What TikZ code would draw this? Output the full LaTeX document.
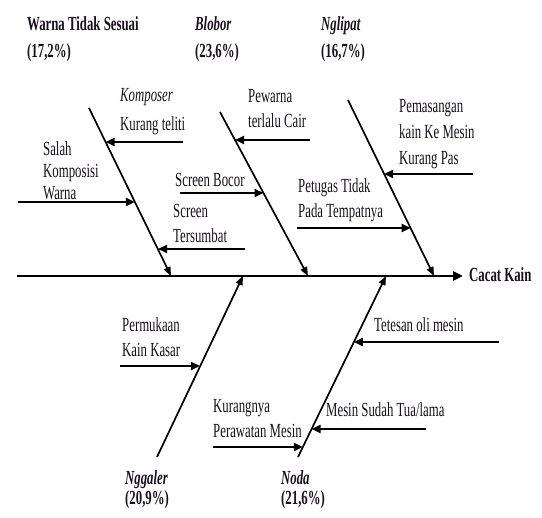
\documentclass[tikz,border=0pt]{standalone}
\usepackage{fontspec}
\setmainfont{Liberation Serif}[FakeStretch=0.64]
\usetikzlibrary{arrows.meta,calc}
\definecolor{ink}{RGB}{24,16,26}
\begin{document}
\begin{tikzpicture}[x=1pt,y=-1pt,
  txt/.style={anchor=base west,inner sep=0pt,align=left,text=ink,
    font=\fontsize{20}{25}\selectfont},
  head/.style={txt,font=\fontsize{20}{27}\selectfont\bfseries},
  headit/.style={txt,font=\fontsize{20}{27}\selectfont\bfseries\itshape},
  foot/.style={txt,font=\fontsize{20}{20}\selectfont\bfseries\itshape},
  bone/.style={line width=1.7pt,-{Triangle[length=9pt,width=7pt]}},
  sub/.style={line width=2.1pt,-{Triangle[length=9pt,width=8pt]}},
  spine/.style={line width=2.5pt,-{Triangle[length=10pt,width=9pt]}}]
\useasboundingbox (0,0) rectangle (542,518);

% spine and effect
\coordinate (s0) at (17,276);
\node[txt,font=\fontsize{20}{24}\selectfont\bfseries] (effect) at (469,282) {Cacat Kain};
\coordinate (sEnd) at (463,276);
\draw[spine] (s0) -- (sEnd);

% main bones
\coordinate (tlA) at (89,108);  \coordinate (tlB) at (171,276);
\coordinate (tmA) at (220,112); \coordinate (tmB) at (308,276);
\coordinate (trA) at (348,100); \coordinate (trB) at (434,276);
\coordinate (blA) at (157,457); \coordinate (blB) at (243,276);
\coordinate (brA) at (298,457); \coordinate (brB) at (386,276);
\foreach \b in {tl,tm,tr,bl,br} \draw[bone] (\b A) -- (\b B);

% category labels (anchored at the baseline of the last line)
\node[head] (cWarna) at (27,58) {Warna Tidak Sesuai\\(17,2\%)};
\node[headit] (cBlobor) at (195,58) {Blobor\\\upshape(23,6\%)};
\node[headit] (cNglipat) at (321,58) {Nglipat\\\upshape(16,7\%)};
\node[foot] (cNggaler) at (125,505) {Nggaler\\\upshape(20,9\%)};
\node[foot] (cNoda) at (281,505) {Noda\\\upshape(21,6\%)};

% causes on the top-left bone
\node[txt,font=\fontsize{20}{29}\selectfont] (tKomp) at (120,131) {\itshape Komposer\\Kurang teliti};
\coordinate (aKomp) at (183,142);
\draw[sub] (aKomp) -- (105.6,142);
\node[txt,font=\fontsize{20}{22}\selectfont] (tSalah) at (43,200) {Salah\\Komposisi\\Warna};
\coordinate (aSalah) at (18,202);
\draw[sub] (aSalah) -- (134.9,202);
\node[txt] (tSumbat) at (173,243) {Screen\\Tersumbat};
\coordinate (aSumbat) at (245,249);
\draw[sub] (aSumbat) -- (158,249);

% causes on the top-middle bone
\node[txt] (tBocor) at (175,187) {Screen Bocor};
\coordinate (aBocor) at (180,193);
\draw[sub] (aBocor) -- (263.5,193);
\node[txt] (tCair) at (248,128) {Pewarna\\terlalu Cair};
\coordinate (aCair) at (310,140);
\draw[sub] (aCair) -- (235,140);

% causes on the top-right bone
\node[txt,font=\fontsize{20}{26}\selectfont] (tPas) at (399,165) {Pemasangan\\kain Ke Mesin\\Kurang Pas};
\coordinate (aPas) at (473,174);
\draw[sub] (aPas) -- (384,174);
\node[txt] (tPetugas) at (298,218) {Petugas Tidak\\Pada Tempatnya};
\coordinate (aPetugas) at (297,228);
\draw[sub] (aPetugas) -- (410.6,228);

% causes on the bottom-left bone
\node[txt] (tKasar) at (122,357) {Permukaan\\Kain Kasar};
\coordinate (aKasar) at (120,366);
\draw[sub] (aKasar) -- (200,366);
\node[txt] (tRawat) at (213,438) {Kurangnya\\Perawatan Mesin};
\coordinate (aRawat) at (213,447);
\draw[sub] (aRawat) -- (302.9,447);

% causes on the bottom-right bone
\node[txt] (tOli) at (374,332) {Tetesan oli mesin};
\coordinate (aOli) at (499,342);
\draw[sub] (aOli) -- (353.9,342);
\node[txt] (tTua) at (326,417) {Mesin Sudah Tua/lama};
\coordinate (aTua) at (426,429);
\draw[sub] (aTua) -- (311.6,429);
\end{tikzpicture}
\end{document}
